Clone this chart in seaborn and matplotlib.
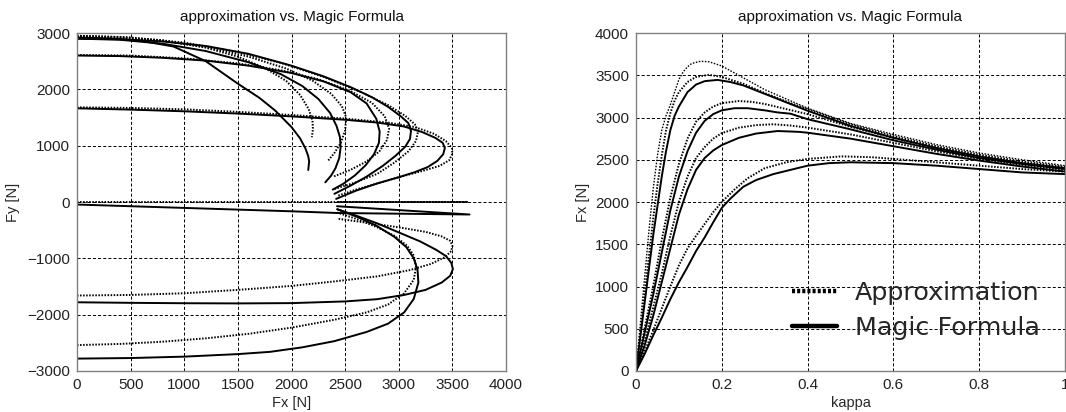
import numpy as np
import pandas as pd
import matplotlib
matplotlib.use("Agg")
import matplotlib.pyplot as plt
from matplotlib.lines import Line2D
import seaborn as sns

# ---------------- data: left panel (Fx vs Fy), Magic Formula (solid) ----------------
mf1_fx = [0, 300, 600, 900, 1200, 1500, 1700, 1850, 2000, 2080, 2130, 2155, 2165, 2160, 2156]
mf1_fy = [2920, 2905, 2860, 2760, 2500, 2100, 1850, 1620, 1330, 1130, 950, 820, 720, 640, 568]
mf2_fx = [0, 400, 800, 1200, 1600, 1900, 2100, 2250, 2360, 2420, 2452, 2458, 2445, 2410, 2370, 2315]
mf2_fy = [2900, 2880, 2810, 2680, 2480, 2270, 2060, 1830, 1580, 1350, 1150, 970, 780, 600, 470, 349]
mf3_fx = [0, 400, 800, 1200, 1600, 2000, 2300, 2550, 2700, 2790, 2822, 2815, 2770, 2690, 2590, 2480, 2385]
mf3_fy = [2600, 2590, 2560, 2510, 2420, 2290, 2140, 1950, 1750, 1480, 1250, 1050, 850, 650, 470, 320, 220]
mf4_fx = [0, 400, 800, 1200, 1600, 2000, 2300, 2550, 2750, 2900, 3020, 3090, 3114, 3105, 3060, 2970,
          2850, 2700, 2550, 2400]
mf4_fy = [2900, 2890, 2850, 2770, 2630, 2420, 2230, 2040, 1860, 1690, 1520, 1400, 1260, 1120, 980, 820,
          640, 450, 290, 145]
mf5_fx = [0, 500, 1000, 1500, 2000, 2500, 2800, 3050, 3220, 3340, 3410, 3430, 3415, 3360, 3270, 3150,
          3000, 2800, 2600, 2416]
mf5_fy = [1663, 1640, 1610, 1570, 1520, 1460, 1410, 1340, 1240, 1140, 1050, 960, 850, 730, 620, 530,
          440, 330, 200, 55]
mf6_fx = [0, 1000, 2000, 2424, 3660, 2424]
mf6_fy = [-45, -105, -165, -195, -222, -75]
mf7_fx = [0, 500, 1000, 1500, 2000, 2500, 2800, 3050, 3250, 3400, 3480, 3505, 3490, 3440, 3350, 3200,
          3000, 2800, 2600, 2427]
mf7_fy = [-1780, -1790, -1797, -1800, -1795, -1765, -1725, -1650, -1560, -1430, -1310, -1190, -1080,
          -960, -850, -700, -540, -380, -240, -129]
mf8_fx = [0, 500, 1000, 1500, 1800, 2100, 2400, 2700, 2900, 3050, 3140, 3183, 3175, 3140, 3070, 2960,
          2800, 2620, 2427]
mf8_fy = [-2780, -2770, -2745, -2700, -2660, -2580, -2470, -2307, -2160, -1960, -1720, -1430, -1200,
          -1000, -800, -620, -430, -270, -129]

# ---------------- data: left panel, approximation (dotted) ----------------
ap1_fx = [0, 400, 800, 1200, 1500, 1750, 1950, 2080, 2160, 2195, 2200, 2190]
ap1_fy = [2950, 2930, 2870, 2740, 2580, 2380, 2150, 1900, 1650, 1450, 1300, 1150]
ap2_fx = [0, 400, 800, 1200, 1600, 1950, 2200, 2370, 2470, 2510, 2500, 2460, 2400, 2340]
ap2_fy = [2940, 2920, 2860, 2750, 2580, 2370, 2150, 1920, 1700, 1500, 1270, 1050, 870, 730]
ap3_fx = [0, 500, 1000, 1500, 1900, 2250, 2550, 2750, 2870, 2910, 2890, 2820, 2700, 2550, 2390]
ap3_fy = [2610, 2600, 2550, 2460, 2340, 2180, 1970, 1760, 1520, 1300, 1100, 900, 720, 570, 450]
ap4_fx = [0, 500, 1000, 1500, 1900, 2300, 2650, 2900, 3060, 3150, 3180, 3160, 3090, 2960, 2800, 2600,
          2400]
ap4_fy = [2950, 2920, 2830, 2660, 2470, 2220, 1950, 1720, 1530, 1380, 1250, 1080, 900, 700, 500, 350,
          230]
ap5_fx = [0, 500, 1000, 1500, 2000, 2500, 2900, 3150, 3330, 3440, 3495, 3500, 3470, 3380, 3200, 3000,
          2800, 2600, 2430]
ap5_fy = [1680, 1670, 1645, 1600, 1545, 1480, 1410, 1330, 1210, 1080, 960, 860, 740, 640, 540, 440,
          330, 220, 110]
ap6_fx = [0, 3650, 2424]
ap6_fy = [0, 0, 0]
ap7_fx = [0, 500, 1000, 1500, 2000, 2400, 2800, 3100, 3300, 3430, 3490, 3500, 3480, 3400, 3250, 3000,
          2750, 2427]
ap7_fy = [-1660, -1650, -1620, -1560, -1490, -1410, -1320, -1210, -1100, -980, -870, -780, -690, -610,
          -530, -450, -380, -295]
ap8_fx = [0, 400, 800, 1200, 1600, 2000, 2400, 2700, 2900, 3050, 3140, 3161, 3140, 3080, 2960, 2800,
          2620, 2427]
ap8_fy = [-2540, -2520, -2480, -2420, -2340, -2230, -2090, -1960, -1820, -1620, -1380, -1150, -950,
          -780, -600, -450, -310, -188]

# ---------------- data: right panel (kappa vs Fx) ----------------
k_top = [0, .01, .02, .03, .04, .05, .06, .07, .08, .09, .10, .11, .12, .13, .15, .17, .20, .25, .30,
         .35, .40, .50, .60, .70, .80, .90, 1.0]
fx_top = [0, 550, 1100, 1650, 2150, 2550, 2850, 3020, 3150, 3300, 3450, 3540, 3600, 3640, 3665, 3660,
          3610, 3470, 3330, 3220, 3110, 2930, 2800, 2680, 2580, 2500, 2430]

k_a1 = [0, .01, .02, .03, .04, .05, .06, .07, .08, .09, .10, .12, .14, .17, .20, .25, .30, .35, .40,
        .50, .60, .70, .80, .90, 1.0]
fx_a1 = [0, 450, 900, 1350, 1800, 2200, 2550, 2850, 3050, 3200, 3300, 3420, 3480, 3505, 3480, 3400,
         3290, 3190, 3100, 2920, 2780, 2660, 2560, 2480, 2415]
k_m1 = [0, .01, .02, .03, .04, .05, .06, .07, .08, .09, .10, .12, .14, .16, .19, .22, .25, .30, .35,
        .40, .50, .60, .70, .80, .90, 1.0]
fx_m1 = [0, 400, 800, 1200, 1600, 1950, 2300, 2600, 2850, 3020, 3130, 3300, 3390, 3430, 3445, 3420,
         3380, 3280, 3180, 3080, 2900, 2760, 2640, 2540, 2460, 2400]

k_a2 = [0, .02, .04, .06, .08, .10, .12, .14, .16, .18, .20, .24, .27, .30, .35, .40, .50, .60, .70,
        .80, .90, 1.0]
fx_a2 = [0, 500, 1000, 1550, 2050, 2450, 2750, 2950, 3060, 3130, 3170, 3195, 3185, 3160, 3100, 3040,
         2890, 2760, 2640, 2540, 2460, 2400]
k_m2 = [0, .02, .04, .06, .08, .10, .12, .14, .16, .18, .20, .23, .26, .30, .33, .36, .40, .50, .60,
        .70, .80, .90, 1.0]
fx_m2 = [0, 450, 900, 1400, 1900, 2300, 2600, 2820, 2960, 3040, 3085, 3110, 3110, 3085, 3060, 3045,
         2980, 2860, 2730, 2620, 2520, 2450, 2390]

k_a3 = [0, .02, .04, .06, .08, .10, .12, .14, .16, .18, .20, .24, .28, .32, .36, .40, .50, .60, .70,
        .80, .90, 1.0]
fx_a3 = [0, 350, 750, 1150, 1600, 2000, 2300, 2520, 2650, 2750, 2815, 2880, 2910, 2920, 2905, 2880,
         2800, 2700, 2600, 2510, 2440, 2380]
k_m3 = [0, .02, .04, .06, .08, .10, .12, .14, .16, .18, .20, .24, .28, .33, .38, .40, .50, .60, .70,
        .80, .90, 1.0]
fx_m3 = [0, 300, 650, 1050, 1450, 1850, 2150, 2380, 2520, 2610, 2674, 2760, 2810, 2840, 2830, 2820,
         2750, 2660, 2570, 2490, 2420, 2360]

k_a4 = [0, .02, .04, .06, .08, .10, .12, .14, .16, .18, .20, .23, .26, .30, .35, .40, .48, .55, .60,
        .70, .80, .90, 1.0]
fx_a4 = [0, 230, 480, 740, 1000, 1250, 1450, 1600, 1740, 1880, 2000, 2150, 2280, 2400, 2470, 2510,
         2540, 2530, 2510, 2470, 2430, 2390, 2360]
k_m4 = [0, .02, .04, .06, .08, .10, .12, .14, .16, .18, .20, .22, .25, .28, .32, .36, .40, .45, .50,
        .60, .70, .80, .90, 1.0]
fx_m4 = [0, 200, 420, 630, 850, 1050, 1230, 1420, 1580, 1760, 1930, 2040, 2180, 2260, 2330, 2380,
         2430, 2460, 2470, 2460, 2430, 2390, 2350, 2330]

titles = ["approximation vs. Magic Formula", "approximation vs. Magic Formula"]
legend_labels = ["Approximation", "Magic Formula"]

# ---------------- style ----------------
sns.set_style("white")
plt.rcParams["font.family"] = ["Liberation Sans", "DejaVu Sans"]
plt.rcParams["lines.scale_dashes"] = False

DOT = (0, (1.1, 1.1))
GRID = (0, (2.2, 1.5))

fig = plt.figure(figsize=(10.66, 4.12), dpi=100)
ax1 = fig.add_axes([77 / 1066, 41 / 412, 429 / 1066, 338 / 412])
ax2 = fig.add_axes([636 / 1066, 41 / 412, 429 / 1066, 338 / 412])


def curve(ax, xs, ys, dotted, lw=1.4):
    df = pd.DataFrame({"x": xs, "y": ys})
    sns.lineplot(data=df, x="x", y="y", ax=ax, sort=False, estimator=None,
                 color="black", lw=lw, linestyle=DOT if dotted else "-")


for fx, fy in [(mf1_fx, mf1_fy), (mf2_fx, mf2_fy), (mf3_fx, mf3_fy), (mf4_fx, mf4_fy),
               (mf5_fx, mf5_fy), (mf6_fx, mf6_fy), (mf7_fx, mf7_fy), (mf8_fx, mf8_fy)]:
    curve(ax1, fx, fy, False, 1.4)
for fx, fy in [(ap1_fx, ap1_fy), (ap2_fx, ap2_fy), (ap3_fx, ap3_fy), (ap4_fx, ap4_fy),
               (ap5_fx, ap5_fy), (ap6_fx, ap6_fy), (ap7_fx, ap7_fy), (ap8_fx, ap8_fy)]:
    curve(ax1, fx, fy, True, 1.4)

curve(ax2, k_top, fx_top, True, 1.0)
for k, f in [(k_a1, fx_a1), (k_a2, fx_a2), (k_a3, fx_a3), (k_a4, fx_a4)]:
    curve(ax2, k, f, True, 1.4)
for k, f in [(k_m1, fx_m1), (k_m2, fx_m2), (k_m3, fx_m3), (k_m4, fx_m4)]:
    curve(ax2, k, f, False, 1.4)

ax1.set_xlim(0, 4000)
ax1.set_ylim(-3000, 3000)
ax1.set_xticks(np.arange(0, 4001, 500))
ax1.set_yticks(np.arange(-3000, 3001, 1000))
ax1.set_xlabel("Fx [N]", fontsize=10.5, labelpad=3)
ax1.set_ylabel("Fy [N]", fontsize=10.5, labelpad=5)

ax2.set_xlim(0, 1)
ax2.set_ylim(0, 4000)
ax2.set_xticks([0, 0.2, 0.4, 0.6, 0.8, 1])
ax2.set_xticklabels(["0", "0.2", "0.4", "0.6", "0.8", "1"])
ax2.set_yticks(np.arange(0, 4001, 500))
ax2.set_xlabel("kappa", fontsize=10.5, labelpad=3)
ax2.set_ylabel("Fx [N]", fontsize=10.5, labelpad=4)

for ax, t in zip([ax1, ax2], titles):
    ax.set_title(t, fontsize=11, pad=9, color="#111111")
    ax.grid(True, color="black", linestyle=GRID, linewidth=0.7)
    ax.set_axisbelow(True)
    for s in ax.spines.values():
        s.set_color("#808080")
        s.set_linewidth(1.0)
    ax.tick_params(direction="in", length=0, labelsize=11, colors="#222222", pad=5)

handles = [Line2D([], [], color="black", lw=3.2, linestyle=(0, (2.2, 1.5))),
           Line2D([], [], color="black", lw=3.2, linestyle="-")]
ax2.legend(handles, legend_labels, loc="center left", bbox_to_anchor=(0.363, 0.180),
           frameon=False, prop={"size": 18.3, "family": "DejaVu Sans"},
           handlelength=1.77, handletextpad=0.71, labelspacing=0.43, borderpad=0, borderaxespad=0)

fig.savefig("out.png", dpi=100)
